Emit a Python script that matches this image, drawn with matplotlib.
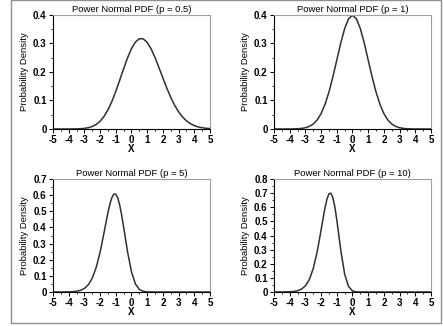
import matplotlib
matplotlib.use("Agg")
import matplotlib.pyplot as plt
from matplotlib.patches import Rectangle
from matplotlib.ticker import MultipleLocator

plt.rcParams['font.family'] = ['Liberation Sans', 'DejaVu Sans']
plt.rcParams['axes.unicode_minus'] = False

# x grid used for the broad curves (p = 0.5, p = 1)
x_broad = [-5, -4.5, -4, -3.75, -3.5, -3.25, -3, -2.75, -2.5, -2.25, -2, -1.75, -1.5,
           -1.25, -1, -0.75, -0.5, -0.25, 0, 0.25, 0.5, 0.75, 1, 1.25, 1.5, 1.75,
           2, 2.25, 2.5, 2.75, 3, 3.25, 3.5, 3.75, 4, 4.25, 4.5, 4.75, 5]

pdf_p05 = [0.0, 0.000008, 0.000067, 0.000177, 0.000437, 0.001015, 0.002217, 0.004554,
           0.008791, 0.015968, 0.027308, 0.044029, 0.067037, 0.096568, 0.131901,
           0.171214, 0.211694, 0.249863, 0.282095, 0.305195, 0.316912, 0.316285,
           0.303743, 0.280965, 0.250546, 0.215533, 0.178979, 0.143539, 0.111213,
           0.083295, 0.060312, 0.042234, 0.028597, 0.018773, 0.0119, 0.0073,
           0.00434, 0.0025, 0.00139]

pdf_p1 = [0.0000015, 0.000016, 0.000134, 0.000353, 0.000873, 0.002029, 0.004432,
          0.009094, 0.017528, 0.03174, 0.053991, 0.086277, 0.129518, 0.182649,
          0.241971, 0.301137, 0.352065, 0.386668, 0.398942, 0.386668, 0.352065,
          0.301137, 0.241971, 0.182649, 0.129518, 0.086277, 0.053991, 0.03174,
          0.017528, 0.009094, 0.004432, 0.002029, 0.000873, 0.000353, 0.000134,
          0.000048, 0.000016, 0.000005, 0.0000015]

# finer grid near the peaks for the narrow curves
x_p5 = [-5, -4.5, -4, -3.75, -3.5, -3.25, -3, -2.75, -2.5, -2.25, -2, -1.75, -1.625,
        -1.5, -1.375, -1.25, -1.125, -1, -0.875, -0.75, -0.625, -0.5, -0.25, 0, 0.25,
        0.5, 0.75, 1, 1.25, 1.5, 2, 3, 4, 5]
pdf_p5 = [0.0, 0.00008, 0.00067, 0.001764, 0.004361, 0.010122, 0.022041, 0.04493,
          0.085483, 0.151081, 0.246215, 0.366306, 0.430071, 0.491118, 0.544277,
          0.584275, 0.606091, 0.606218, 0.583281, 0.53863, 0.476293, 0.402409,
          0.248407, 0.124669, 0.050137, 0.015953, 0.003972, 0.000767, 0.000114,
          0.00001, 0.0, 0.0, 0.0, 0.0]

x_p10 = [-5, -4.5, -4, -3.75, -3.5, -3.25, -3, -2.75, -2.5, -2.25, -2, -1.875, -1.75,
         -1.625, -1.5, -1.375, -1.25, -1.125, -1, -0.875, -0.75, -0.5, -0.25, 0,
         0.25, 0.5, 1, 2, 3, 4, 5]
pdf_p10 = [0.0, 0.00016, 0.00134, 0.003527, 0.008712, 0.020185, 0.043784, 0.08853,
           0.165724, 0.284143, 0.438902, 0.521019, 0.597153, 0.658277, 0.695153,
           0.699843, 0.668639, 0.603157, 0.511071, 0.404755, 0.298018, 0.127265,
           0.038226, 0.007792, 0.001045, 0.000089, 0.0, 0.0, 0.0, 0.0, 0.0]

panels = [
    ("Power Normal PDF (p = 0.5)", x_broad, pdf_p05, 0.4, [0.1196, 0.6043, 0.3544, 0.3497]),
    ("Power Normal PDF (p = 1)", x_broad, pdf_p1, 0.4, [0.6185, 0.6043, 0.3544, 0.3497]),
    ("Power Normal PDF (p = 5)", x_p5, pdf_p5, 0.7, [0.1196, 0.1043, 0.3544, 0.3466]),
    ("Power Normal PDF (p = 10)", x_p10, pdf_p10, 0.8, [0.6185, 0.1043, 0.3544, 0.3466]),
]

fig = plt.figure(figsize=(4.43, 3.26), dpi=100)

# grey frame round the whole figure
fig.patches.append(Rectangle((0.025, 0.009), 0.97, 0.99, transform=fig.transFigure,
                             fill=False, edgecolor='#909090', linewidth=1.0))

for title, xs, ys, ymax, rect in panels:
    ax = fig.add_axes(rect)
    ax.plot(xs, ys, color='#303030', linewidth=1.1)
    ax.set_xlim(-5, 5)
    ax.set_ylim(0, ymax)
    ax.xaxis.set_major_locator(MultipleLocator(1))
    ax.xaxis.set_minor_locator(MultipleLocator(0.5))
    ax.yaxis.set_major_locator(MultipleLocator(0.1))
    ax.yaxis.set_minor_locator(MultipleLocator(0.05))
    ax.set_yticklabels(['0' if abs(v) < 1e-9 else '%.1f' % v for v in ax.get_yticks()])
    ax.tick_params(which='major', length=3, width=0.7, labelsize=7, pad=1.5)
    ax.tick_params(which='minor', length=1.5, width=0.6)
    for lab in ax.get_xticklabels() + ax.get_yticklabels():
        lab.set_fontweight('bold')
    for side in ('top', 'right'):
        ax.spines[side].set_color('#a0a0a0')
        ax.spines[side].set_linewidth(0.8)
    for side in ('left', 'bottom'):
        ax.spines[side].set_linewidth(0.8)
    ax.set_title(title, fontsize=6.8, pad=2)
    ax.set_xlabel('X', fontsize=7, fontweight='bold', labelpad=-1)
    ax.set_ylabel('Probability Density', fontsize=6.8, labelpad=3)

fig.savefig('out.png', dpi=100)
